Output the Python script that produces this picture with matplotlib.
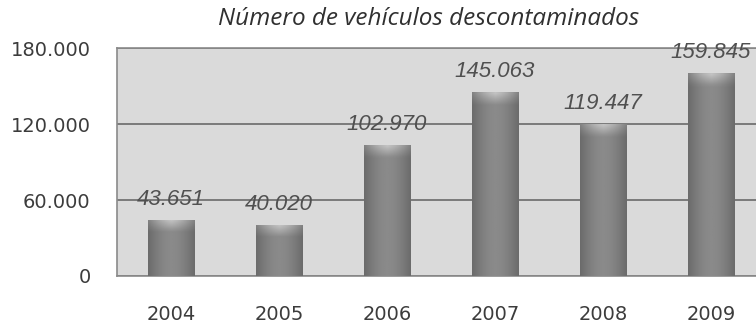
import matplotlib
matplotlib.use("Agg")
import matplotlib.pyplot as plt
import numpy as np

# Datos: vehículos descontaminados por año
years = ["2004", "2005", "2006", "2007", "2008", "2009"]
vehicles = [43651, 40020, 102970, 145063, 119447, 159845]
value_labels = ["43.651", "40.020", "102.970", "145.063", "119.447", "159.845"]
yticks = [0, 60000, 120000, 180000]
ytick_labels = ["0", "60.000", "120.000", "180.000"]

fig = plt.figure(figsize=(7.56, 3.27), dpi=100)
ax = fig.add_axes([0.1548, 0.156, 0.857, 0.697])

x = np.arange(len(years))
width = 0.43
ax.set_facecolor("#dadada")

ax.yaxis.grid(True, color="#7a7a7a", linewidth=1.4)
ax.set_axisbelow(True)

bars = ax.bar(x, vehicles, width=width, color="#707070", zorder=2)

# degradado: bordes laterales más oscuros y parte superior más clara
gx = np.linspace(0, 1, 64)
side = 0.42 + 0.12 * np.sin(np.pi * gx)
for b in bars:
    x0, w, h = b.get_x(), b.get_width(), b.get_height()
    cap = 9000
    gy = np.linspace(0, 1, 64)[:, np.newaxis]
    top = np.clip((gy * h - (h - cap)) / cap, 0, 1)
    img = side[np.newaxis, :] + 0.22 * top * (1 - 0.6 * np.abs(gx - 0.5) * 2)
    ax.imshow(img, cmap="gray", vmin=0, vmax=1, origin="lower",
              extent=[x0, x0 + w, 0, h], aspect="auto", zorder=3,
              interpolation="bilinear")
ax.set_xlim(-0.5, len(years) - 0.5)
ax.set_ylim(0, 180000)

for xi, v, lab in zip(x, vehicles, value_labels):
    ax.text(xi, v + 8500, lab, ha="center", va="bottom", fontsize=16,
            style="italic", color="#505050", family="Liberation Sans",
            zorder=5)

ax.set_yticks(yticks)
ax.set_yticklabels(ytick_labels)
ax.set_xticks(x)
ax.set_xticklabels(years)
ax.tick_params(axis="both", length=0, labelsize=14, labelcolor="#3c3c3c")
ax.tick_params(axis="y", pad=19)
ax.tick_params(axis="x", pad=21)

for s in ax.spines.values():
    s.set_color("#8a8a8a")
    s.set_linewidth(1.2)

fig.text(0.5665, 0.943, "Número de vehículos descontaminados", ha="center",
         va="center", fontsize=17.5, style="italic", color="#303030",
         family="Open Sans")

fig.savefig("out.png", dpi=100)
